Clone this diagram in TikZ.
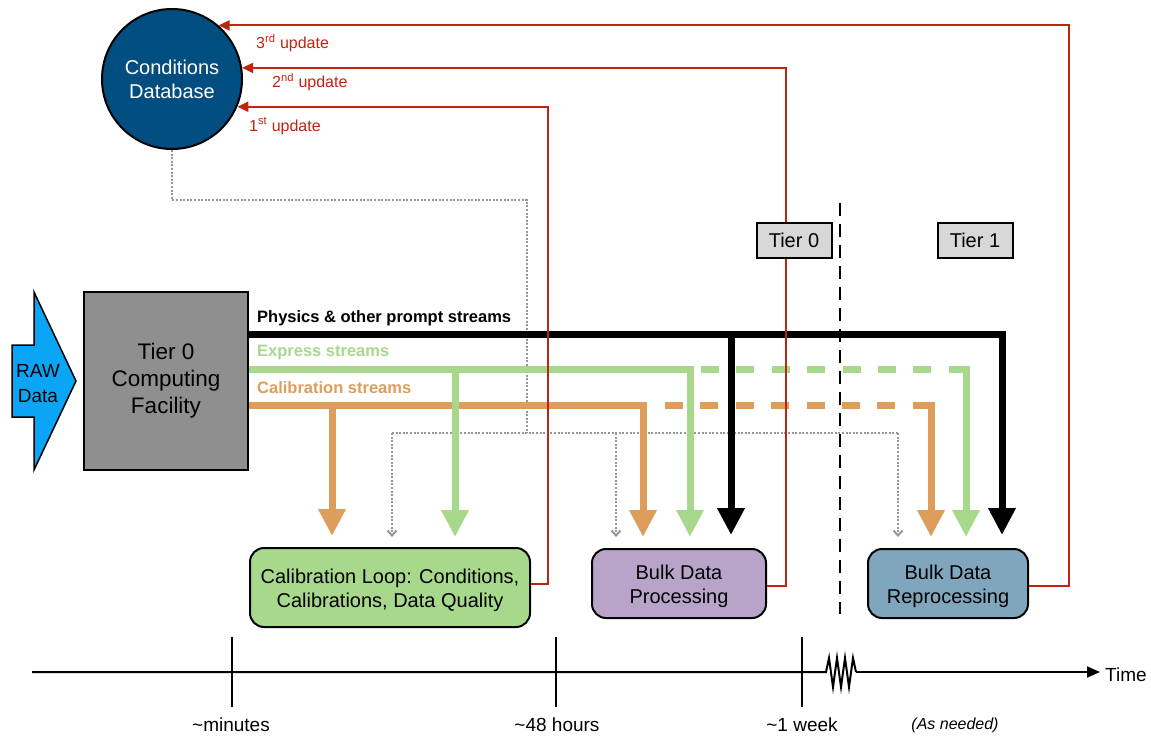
\documentclass[tikz,border=0pt]{standalone}
\usepackage{fontspec}
\setmainfont{Liberation Sans}
\usetikzlibrary{arrows.meta}
\definecolor{dbblue}{RGB}{3,78,128}
\definecolor{rawblue}{RGB}{10,166,245}
\definecolor{tzgray}{RGB}{143,143,143}
\definecolor{sgreen}{RGB}{168,216,140}
\definecolor{sorange}{RGB}{222,158,91}
\definecolor{bpurple}{RGB}{184,164,200}
\definecolor{bsteel}{RGB}{128,166,190}
\definecolor{tiergray}{RGB}{215,215,215}
\definecolor{updred}{RGB}{192,36,14}
\definecolor{dotgray}{RGB}{150,150,150}
\begin{document}
\begin{tikzpicture}[x=1pt,y=-1pt,
  procbox/.style={draw=black, line width=2pt, rounded corners=14pt, inner sep=0pt},
  proctext/.style={align=center, inner sep=0pt, font=\fontsize{20}{24.5}\selectfont},
  tierbox/.style={draw=black, line width=2pt, fill=tiergray, inner sep=0pt,
    minimum width=75pt, minimum height=35pt, font=\fontsize{20}{24}\selectfont},
  stream/.style={line width=7pt},
  bigtip/.style={-{Triangle[width=26pt,length=27pt]}},
  upd/.style={draw=updred, line width=2pt, -{Triangle[width=10pt,length=11pt]}},
  updlbl/.style={text=updred, anchor=west, inner sep=0pt, font=\fontsize{16}{18}\selectfont},
  dotg/.style={draw=dotgray, line width=2pt, dash pattern=on 2pt off 1.6pt},
  dottip/.style={-{Straight Barb[width=9pt,length=5pt]}},
  slbl/.style={anchor=west, inner sep=0pt, font=\fontsize{16.5}{18}\selectfont\bfseries},
  tick/.style={line width=2pt},
  tlbl/.style={inner sep=0pt, font=\fontsize{19}{22}\selectfont}
]
\useasboundingbox (0,0) rectangle (1151,737);

% Conditions database
\node[circle, draw=black, line width=2pt, fill=dbblue, minimum size=140pt, inner sep=0pt,
  text=white, align=center, font=\fontsize{20}{24}\selectfont] (db) at (172,79) {Conditions\\Database};

% RAW data arrow
\draw[fill=rawblue, line width=1.5pt] (12,345) -- (34,345) -- (34,292) -- (76,381) -- (34,470) -- (34,417) -- (12,417) -- cycle;
\node[align=center, inner sep=0pt, font=\fontsize{19}{25}\selectfont] (raw) at (38,384) {RAW\\Data};

% Tier 0 facility
\node[draw=black, line width=2pt, fill=tzgray, minimum width=164pt, minimum height=178pt, inner sep=0pt,
  align=center, font=\fontsize{22.5}{27}\selectfont] (t0) at (166,381) {Tier 0\\Computing\\Facility};

% Process boxes
\node[procbox, fill=sgreen, minimum width=280pt, minimum height=79pt] (calib) at (390,587.5) {};
\node[proctext] (calibt) at ([yshift=-3pt]calib.center) {Calibration Loop: Conditions,\\Calibrations, Data Quality};
\node[procbox, fill=bpurple, minimum width=174pt, minimum height=69pt] (bulk) at (679,583.5) {};
\node[proctext] (bulkt) at ([yshift=-3pt]bulk.center) {Bulk Data\\Processing};
\node[procbox, fill=bsteel, minimum width=160pt, minimum height=69pt] (reproc) at (948,583.5) {};
\node[proctext] (reproct) at ([yshift=-3pt]reproc.center) {Bulk Data\\Reprocessing};

% Gray dotted conditions feed
\draw[dotg] (db.south) -- ++(0,50) -| (527,433);
\draw[dotg] (392,433) -- (898,433);
\draw[dotg, dottip] (392,433) -- (392,537);
\draw[dotg, dottip] (616,433) -- (616,537);
\draw[dotg, dottip] (898,433) -- (898,537);

% Tier boundary
\draw[line width=2.5pt, dash pattern=on 13pt off 8pt] (840,203) -- (840,614);

% Streams: orange
\draw[stream, sorange, bigtip] (t0.east |- 0,405) -- (643,405) -- (643,537);
\draw[stream, sorange, bigtip] (332,405) -- (332,536);
\draw[stream, sorange, dash pattern=on 18pt off 17.4pt] (665,405) -- (931,405);
\draw[stream, sorange, bigtip] (931,401.5) -- (931,537);
% Streams: green
\draw[stream, sgreen, bigtip] (t0.east |- 0,369) -- (690,369) -- (690,537);
\draw[stream, sgreen, bigtip] (455,369) -- (455,537);
\draw[stream, sgreen, dash pattern=on 18pt off 17.4pt] (701,369) -- (966,369);
\draw[stream, sgreen, bigtip] (966,365.5) -- (966,537);
% Streams: black
\draw[stream, black, bigtip] (t0.east |- 0,334) -- (1002,334) -- (1002,535);
\draw[stream, black, bigtip] (731,334) -- (731,535);

\node[slbl, text=black] (lphys) at (257,318) {Physics \& other prompt streams};
\node[slbl, text=sgreen] (lexp) at (257,353) {Express streams};
\node[slbl, text=sorange] (lcal) at (257,388) {Calibration streams};

% Update feedback
\draw[upd] (calib.east |- 0,584) -- (548,584) |- (db.-23.6);
\draw[upd] (bulk.east |- 0,586) -- (786,586) |- (db.9);
\draw[upd] (reproc.east |- 0,586) -- (1069,586) |- (db.49.2);
\node[updlbl] (u3) at (256,43) {3\textsuperscript{rd} update};
\node[updlbl] (u2) at (272,82) {2\textsuperscript{nd} update};
\node[updlbl] (u1) at (249,126) {1\textsuperscript{st} update};

% Tier labels
\node[tierbox] (tz) at (794,240) {Tier 0};
\node[tierbox] (to) at (975,240) {Tier 1};

% Timeline
\coordinate (tl0) at (32,672);
\coordinate (zz0) at (826,672);
\coordinate (zz1) at (856,672);
\coordinate (tl1) at (1100,672);
\draw[tick] (tl0) -- (zz0) -- (829,658) -- (833,687) -- (837,658) -- (841,687) -- (845,658) -- (849,687) -- (853,658) -- (zz1);
\draw[tick, -{Triangle[width=11pt,length=13pt]}] (zz1) -- (tl1);
\node[tlbl, anchor=west] (time) at (1105,675) {Time};
\draw[tick] (232,637) -- (232,707);
\draw[tick] (556,637) -- (556,707);
\draw[tick] (802,637) -- (802,707);
\node[tlbl] (m1) at (231,725) {\textasciitilde minutes};
\node[tlbl] (m2) at (557,725) {\textasciitilde 48 hours};
\node[tlbl] (m3) at (802,725) {\textasciitilde 1 week};
\node[inner sep=0pt, font=\fontsize{16}{18}\selectfont\itshape] (asn) at (955,725) {(As needed)};
\end{tikzpicture}
\end{document}
